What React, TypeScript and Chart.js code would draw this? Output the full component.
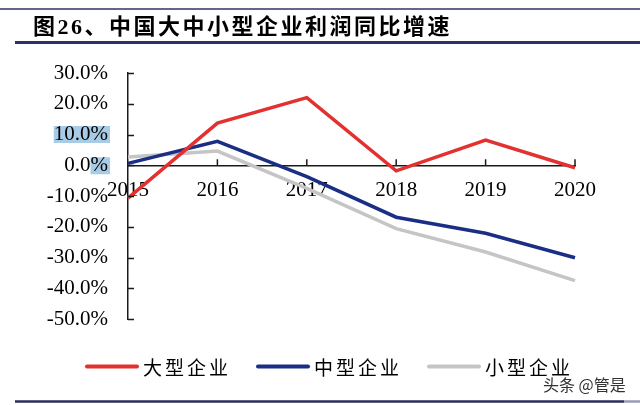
import React, { useEffect, useRef } from "react";
import { Chart, registerables } from "chart.js";

Chart.register(...registerables);

// ---- data ----
const years = ["2015", "2016", "2017", "2018", "2019", "2020"];
const largeGrowth = [-10.7, 13.7, 22.0, -1.8, 8.2, -0.8];
const mediumGrowth = [0.6, 7.8, -3.7, -16.9, -22.1, -30.1];
const smallGrowth = [2.7, 4.6, -7.5, -20.6, -28.2, -37.5];
const seriesNames = ["大型企业", "中型企业", "小型企业"];
const seriesColors = ["#e3312f", "#1a2e86", "#c5c5c5"];
const yMin = -50;
const yMax = 30;
const yStep = 10;
const titleText = "图26、中国大中小型企业利润同比增速";
const watermarkText = "头条 @管是";

const tickFont = "'Liberation Serif', 'Times New Roman', serif";
const cjkFont = "'Noto Sans CJK SC', 'Noto Sans', sans-serif";
const fmtPct = (v: number) => v.toFixed(1) + "%";

const decorPlugin = {
  id: "decor",
  beforeDraw(chart: any) {
    const { ctx } = chart;
    ctx.save();
    ctx.fillStyle = "#ffffff";
    ctx.fillRect(0, 0, chart.width, chart.height);
    // selection highlight behind some tick labels (as in the source image)
    const ys = chart.scales.y;
    ctx.font = `21px ${tickFont}`;
    ctx.fillStyle = "#a9cce6";
    const right = ys.right - 20 + 1;
    const w10 = ctx.measureText(fmtPct(10)).width;
    const p10 = ys.getPixelForValue(10);
    ctx.fillRect(right - w10 - 1, p10 - 8.5, w10 + 2, 17);
    const wp = ctx.measureText("%").width;
    const p0 = ys.getPixelForValue(0);
    ctx.fillRect(right - wp - 1, p0 - 8, wp + 2, 17);
    ctx.restore();
  },
  afterDraw(chart: any) {
    const { ctx, chartArea } = chart;
    const xs = chart.scales.x;
    const ys = chart.scales.y;
    ctx.save();

    // tick marks (inward)
    ctx.strokeStyle = "#1a1a1a";
    ctx.lineWidth = 1.5;
    ctx.beginPath();
    ys.ticks.forEach((t: any) => {
      const py = Math.round(ys.getPixelForValue(t.value)) + 0.5;
      ctx.moveTo(chartArea.left, py);
      ctx.lineTo(chartArea.left + 6, py);
    });
    const zeroY = ys.getPixelForValue(0);
    for (let i = 1; i < years.length; i++) {
      const px = xs.getPixelForValue(i);
      ctx.moveTo(px, zeroY);
      ctx.lineTo(px, zeroY - 6);
    }
    ctx.stroke();

    // header lines
    ctx.strokeStyle = "#2f3267";
    ctx.lineWidth = 1.5;
    ctx.beginPath();
    ctx.moveTo(0, 9);
    ctx.lineTo(chart.width, 9);
    ctx.stroke();
    ctx.lineWidth = 3;
    ctx.beginPath();
    ctx.moveTo(15, 42.5);
    ctx.lineTo(chart.width, 42.5);
    ctx.stroke();

    // title
    ctx.fillStyle = "#000000";
    ctx.font = `bold 22px ${tickFont.split(",")[0]}, ${cjkFont}`;
    (ctx as any).letterSpacing = "2.5px";
    ctx.textBaseline = "alphabetic";
    ctx.textAlign = "left";
    ctx.fillText(titleText, 33, 34);

    // legend
    ctx.font = `19px ${cjkFont}`;
    (ctx as any).letterSpacing = "3px";
    ctx.textBaseline = "middle";
    const legendY = 366.5;
    let lx = 87;
    chart.data.datasets.forEach((ds: any) => {
      ctx.strokeStyle = ds.borderColor;
      ctx.lineWidth = 4;
      ctx.lineCap = "round";
      ctx.beginPath();
      ctx.moveTo(lx, legendY);
      ctx.lineTo(lx + 50, legendY);
      ctx.stroke();
      lx += 56;
      ctx.fillStyle = "#000000";
      ctx.fillText(ds.label, lx, legendY + 1);
      lx += ctx.measureText(ds.label).width + 27;
    });

    // watermark
    (ctx as any).letterSpacing = "0px";
    ctx.font = `16px ${cjkFont}`;
    ctx.fillStyle = "#333333";
    ctx.fillText(watermarkText, 543, 385);

    // footer line
    ctx.lineCap = "butt";
    ctx.strokeStyle = "#2b2d5e";
    ctx.lineWidth = 2.5;
    ctx.beginPath();
    ctx.moveTo(15, 401.5);
    ctx.lineTo(624, 401.5);
    ctx.stroke();
    ctx.strokeStyle = "#9a9ab8";
    ctx.beginPath();
    ctx.moveTo(624, 401.5);
    ctx.lineTo(chart.width, 401.5);
    ctx.stroke();

    ctx.restore();
  },
};

export default function App() {
  const canvasRef = useRef<HTMLCanvasElement | null>(null);

  useEffect(() => {
    if (!canvasRef.current) return;
    const seriesValues = [largeGrowth, mediumGrowth, smallGrowth];
    const chart = new Chart(canvasRef.current, {
      type: "line",
      data: {
        labels: years,
        datasets: seriesNames.map((name, i) => ({
          label: name,
          data: seriesValues[i],
          borderColor: seriesColors[i],
          backgroundColor: seriesColors[i],
          borderWidth: 3.5,
          pointRadius: 0,
          tension: 0,
          fill: false,
        })),
      },
      options: {
        responsive: false,
        devicePixelRatio: 1,
        animation: false,
        layout: { padding: { left: 0, right: 65, top: 73, bottom: 86 } },
        plugins: {
          legend: { display: false },
          tooltip: { enabled: false },
          title: { display: false },
        },
        scales: {
          x: {
            type: "category",
            position: { y: 0 } as any,
            offset: false,
            grid: { display: false, drawTicks: false },
            border: { display: true, color: "#1a1a1a", width: 1.5 },
            ticks: {
              color: "#000000",
              font: { family: tickFont, size: 21 },
              padding: 13,
              maxRotation: 0,
              autoSkip: false,
            },
          },
          y: {
            type: "linear",
            min: yMin,
            max: yMax,
            grid: { display: false, drawTicks: false },
            border: { display: true, color: "#1a1a1a", width: 1.5 },
            ticks: {
              stepSize: yStep,
              color: "#000000",
              font: { family: tickFont, size: 21 },
              padding: 20,
              callback: (v: any) => fmtPct(Number(v)),
            },
            afterFit: (scale: any) => {
              scale.width = 128;
            },
          },
        },
      },
      plugins: [decorPlugin],
    });
    return () => chart.destroy();
  }, []);

  return (
    <div
      style={{
        position: "fixed",
        left: 0,
        top: 0,
        width: 640,
        height: 405,
        background: "#ffffff",
      }}
    >
      <canvas ref={canvasRef} width={640} height={405} style={{ display: "block" }} />
    </div>
  );
}
